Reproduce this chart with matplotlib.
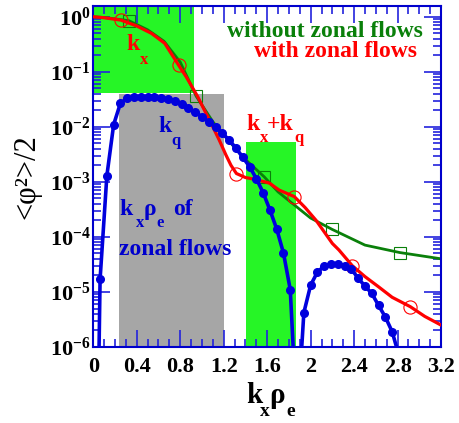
import matplotlib
matplotlib.use("Agg")
import matplotlib.pyplot as plt
from matplotlib.ticker import MultipleLocator, LogLocator, FuncFormatter, NullFormatter

plt.rcParams['font.family'] = ['Liberation Serif', 'DejaVu Serif']
plt.rcParams['font.weight'] = 'bold'
plt.rcParams['mathtext.fontset'] = 'custom'
plt.rcParams['mathtext.rm'] = 'Liberation Serif:bold'
plt.rcParams['mathtext.it'] = 'Liberation Serif:bold'
plt.rcParams['mathtext.bf'] = 'Liberation Serif:bold'
plt.rcParams['mathtext.default'] = 'rm'

# spectrum without zonal flows (green)
kx_nozf = [0.0, 0.1, 0.327, 0.5, 0.65, 0.8, 0.947, 1.1, 1.252, 1.405, 1.572,
           1.7, 1.85, 2.0, 2.198, 2.5, 2.82, 3.2]
phi_nozf = [1.0, 0.97, 0.85, 0.58, 0.36, 0.15, 0.036, 0.0124, 5.4e-3, 2.5e-3, 1.24e-3,
            6.6e-4, 3.8e-4, 2.2e-4, 1.37e-4, 7.1e-5, 5.2e-5, 4.0e-5]
marks_nozf = [2, 6, 10, 14, 16]

# spectrum with zonal flows (red)
kx_zf = [0.0, 0.1, 0.254, 0.4, 0.535, 0.657, 0.785, 0.855, 0.962, 1.023, 1.1,
         1.16, 1.22, 1.267, 1.317, 1.4, 1.5, 1.62, 1.71, 1.85, 1.95, 2.05, 2.2,
         2.26, 2.383, 2.5, 2.625, 2.75, 2.917, 3.05, 3.2]
phi_zf = [1.0, 0.96, 0.87, 0.68, 0.50, 0.33, 0.132, 0.081, 0.035, 0.020, 0.010,
          5.7e-3, 3.1e-3, 2.0e-3, 1.42e-3, 1.2e-3, 1.1e-3, 9.5e-4, 7.1e-4, 5.4e-4, 3.4e-4, 2.0e-4, 7.6e-5,
          5.8e-5, 3.0e-5, 1.9e-5, 1.24e-5, 8.0e-6, 5.4e-6, 3.6e-6, 2.5e-6]
marks_zf = [2, 6, 14, 19, 24, 28]

# zonal flow spectrum k_q (blue)
kq = [0.0, 0.0625, 0.125, 0.1875, 0.25, 0.3125, 0.375, 0.4375, 0.5, 0.5625,
      0.625, 0.6875, 0.75, 0.8125, 0.875, 0.9375, 1.0, 1.0625, 1.125, 1.1875,
      1.25, 1.3125, 1.375, 1.4375, 1.5, 1.5625, 1.625, 1.6875, 1.75, 1.8125,
      1.875, 1.9375, 2.0, 2.0625, 2.125, 2.1875, 2.25, 2.3125, 2.375, 2.4375,
      2.5, 2.5625, 2.625, 2.6875, 2.75, 2.8125]
phi_q = [1e-13, 1.7e-5, 1.3e-3, 0.011, 0.027, 0.033, 0.035, 0.035, 0.035, 0.0345,
         0.0335, 0.032, 0.029, 0.0255, 0.0216, 0.0187, 0.0152, 0.0123, 0.010, 7.6e-3,
         5.8e-3, 4.1e-3, 2.8e-3, 1.9e-3, 1.15e-3, 6.4e-4, 3.1e-4, 1.4e-4, 5.1e-5, 1.1e-5,
         4e-8, 4.2e-6, 1.33e-5, 2.3e-5, 2.95e-5, 3.2e-5, 3.2e-5, 2.95e-5, 2.6e-5, 1.77e-5,
         1.28e-5, 9.4e-6, 5.7e-6, 3.5e-6, 1.9e-6, 7e-7]

# shaded regions: (x0, x1, ylow, yhigh)
box_kx = (0.0, 0.929, 0.0415, 2.0)
box_zonal = (0.239, 1.205, 1e-7, 0.040)
box_sum = (1.405, 1.865, 1e-7, 0.0052)

W, H = 460, 423
fig = plt.figure(figsize=(W / 100, H / 100), dpi=100)
ax = fig.add_axes([0.2028, 0.1797, 0.756, 0.8054])
ax.set_yscale('log')


def put(x, y, s, color, size, **kw):
    # place text by its pixel position (left, baseline) in the figure
    fig.text(x / W, 1 - y / H, s, color=color, fontsize=size, va='baseline', ha='left', **kw)


ax.fill_between(box_kx[:2], box_kx[2], box_kx[3], color='#26f526', lw=0, zorder=0)
ax.fill_between(box_zonal[:2], box_zonal[2], box_zonal[3], color='#a6a6a6', lw=0, zorder=0)
ax.fill_between(box_sum[:2], box_sum[2], box_sum[3], color='#26f526', lw=0, zorder=0)

ax.plot(kx_nozf, phi_nozf, color='#0a800a', lw=2.0, marker='s', markevery=marks_nozf,
        ms=8.5, mfc='none', mec='#0a800a', mew=0.8, zorder=2)
ax.plot(kx_zf, phi_zf, color='#ff0000', lw=2.3, marker='o', markevery=marks_zf,
        ms=9.5, mfc='none', mec='#ff0000', mew=0.8, zorder=3)
ax.plot(kq, phi_q, color='#0000dd', lw=2.6, marker='o', ms=5.5, mfc='#0000dd',
        mec='#0000dd', zorder=4)

ax.set_xlim(0, 3.2)
ax.set_ylim(1e-6, 1.55)

ax.xaxis.set_major_locator(MultipleLocator(0.4))
ax.xaxis.set_minor_locator(MultipleLocator(0.1))
ax.xaxis.set_major_formatter(FuncFormatter(lambda v, p: '%g' % round(v, 2)))
ax.yaxis.set_major_locator(LogLocator(base=10, numticks=10))
ax.yaxis.set_minor_locator(LogLocator(base=10, subs=range(2, 10), numticks=20))
ax.yaxis.set_minor_formatter(NullFormatter())

for s in ax.spines.values():
    s.set_color('#0000cc')
    s.set_linewidth(1.5)
ax.tick_params(which='both', direction='in', top=True, right=True, color='#2222dd', width=1.2)
ax.tick_params(which='major', length=12, labelsize=16)
ax.tick_params(axis='x', which='major', pad=7)
ax.tick_params(axis='y', which='major', pad=2)
ax.tick_params(which='minor', length=6)

ax.set_ylabel('<φ²>/2', fontsize=22, labelpad=6)

# x axis label k_x rho_e
put(246, 403, 'k', 'black', 21)
put(260, 416, 'x', 'black', 14)
put(269, 403, 'ρ', 'black', 21)
put(286, 416, 'e', 'black', 14)

red = '#ff0000'
blue = '#0000cc'
# k_x (red, in the green box)
put(126, 50, 'k', red, 17)
put(139.5, 63.5, 'x', red, 12)
# k_q (blue)
put(158, 131.5, 'k', blue, 17)
put(171, 145, 'q', blue, 12)
# k_x rho_e of zonal flows
put(119, 215, 'k', blue, 17)
put(135.5, 227, 'x', blue, 12)
put(143.5, 215, 'ρ', blue, 17)
put(156, 227, 'e', blue, 12)
put(173, 215, 'of', blue, 17)
put(119, 255, 'zonal flows', blue, 17)
# k_x + k_q (red)
put(246, 130, 'k', red, 17)
put(259.5, 142, 'x', red, 12)
put(267, 130, '+k', red, 17)
put(294.5, 142, 'q', red, 12)

ax.text(0.948, 0.909, 'without zonal flows', color='#0a800a', fontsize=17,
        transform=ax.transAxes, ha='right', va='baseline')
ax.text(0.930, 0.852, 'with zonal flows', color=red, fontsize=17,
        transform=ax.transAxes, ha='right', va='baseline')

fig.savefig('out.png', dpi=100)
